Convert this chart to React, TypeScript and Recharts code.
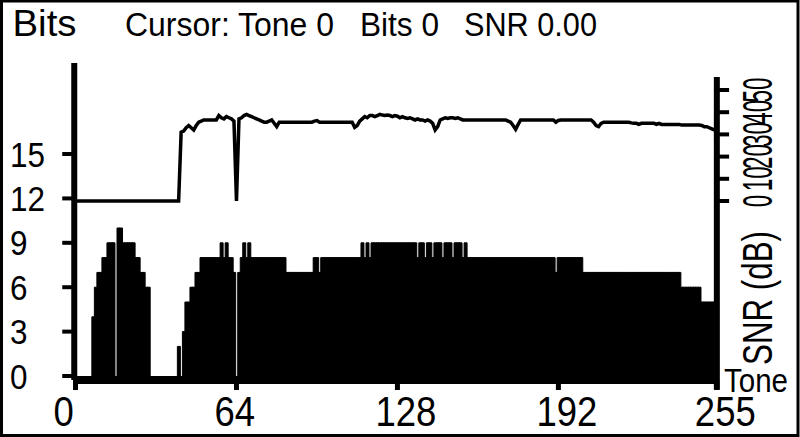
import { ComposedChart, Bar, Line, XAxis, YAxis, ReferenceLine } from 'recharts'

// tone index 0..255 (categories)
const TONES = Array.from({ length: 256 }, (_, i) => i)

// bits loaded per tone
const BITS = [
  0, 0, 0, 0, 0, 0, 0, 4, 6, 7, 7, 8, 8, 9, 9, 9,
  0, 10, 10, 9, 9, 9, 9, 9, 8, 8, 7, 7, 6, 6, 0, 0,
  0, 0, 0, 0, 0, 0, 0, 0, 0, 2, 0, 3, 5, 5, 6, 6,
  7, 7, 8, 8, 8, 8, 8, 8, 8, 8, 9, 8, 9, 8, 8, 7,
  0, 7, 8, 9, 8, 9, 8, 8, 8, 8, 8, 8, 8, 8, 8, 8,
  8, 8, 8, 8, 7, 7, 7, 7, 7, 7, 7, 7, 7, 7, 7, 8,
  8, 7, 8, 8, 8, 8, 8, 8, 8, 8, 8, 8, 8, 8, 8, 8,
  8, 8, 9, 8, 9, 8, 9, 9, 9, 9, 9, 9, 9, 9, 9, 9,
  9, 9, 9, 9, 9, 9, 9, 9, 8, 9, 9, 8, 9, 9, 8, 9,
  9, 9, 8, 9, 9, 9, 8, 9, 9, 9, 8, 9, 8, 8, 8, 8,
  8, 8, 8, 8, 8, 8, 8, 8, 8, 8, 8, 8, 8, 8, 8, 8,
  8, 8, 8, 8, 8, 8, 8, 8, 8, 8, 8, 8, 8, 8, 8, 7,
  8, 8, 8, 8, 8, 8, 8, 8, 8, 8, 7, 7, 7, 7, 7, 7,
  7, 7, 7, 7, 7, 7, 7, 7, 7, 7, 7, 7, 7, 7, 7, 7,
  7, 7, 7, 7, 7, 7, 7, 7, 7, 7, 7, 7, 7, 7, 7, 7,
  7, 6, 6, 6, 6, 6, 6, 6, 6, 5, 5, 5, 5, 5, 5, 5,
]

// SNR per tone in dB
const SNR = [
  0, 0, 0, 0, 0, 0, 0, 0, 0, 0, 0, 0, 0, 0, 0, 0,
  0, 0, 0, 0, 0, 0, 0, 0, 0, 0, 0, 0, 0, 0, 0, 0,
  0, 0, 0, 0, 0, 0, 0, 0, 0, 0, 31, 31.5, 33, 34, 33, 32,
  34, 35.5, 36, 36.5, 36.5, 36.5, 36.5, 36.5, 36.5, 38.5, 37.5, 37, 38, 37.5, 37, 36,
  0, 37, 37.5, 38.5, 39, 38.5, 38, 37.5, 37, 36.5, 36, 35.5, 35.5, 36, 36.5, 35,
  33.5, 35.5, 35.5, 35.5, 35.5, 35.5, 35.5, 35.5, 35.5, 35.5, 35.5, 35.5, 35.5, 35.5, 35.5, 36,
  36.2, 35.5, 35.5, 35.5, 35.5, 35.5, 35.5, 35.5, 35.5, 35.5, 35.5, 35.5, 35.5, 35.5, 35.5, 33.2,
  34, 36, 37, 38, 37.5, 38.5, 38.5, 38, 38.5, 39, 38.7, 38.5, 38.7, 38.5, 38, 38.5,
  38.2, 37.5, 38, 37.5, 37.2, 37.5, 37, 36.5, 37, 36.5, 36.5, 36, 36.5, 36, 35, 32,
  33.5, 36.5, 37, 37.5, 37.2, 37.5, 37.5, 37.2, 37.5, 37, 36.5, 36.5, 36.5, 36.5, 36.5, 36.5,
  36.5, 36.5, 36.5, 36.5, 36.5, 36.5, 36.5, 36.5, 36.5, 36.5, 36.5, 36.5, 36, 35.5, 34, 32.3,
  34.5, 36.5, 36.5, 36.5, 36.5, 36.5, 36.5, 36.5, 36.5, 36.5, 36.5, 36.5, 36.5, 36.5, 36.5, 35.5,
  36.3, 36.5, 36.5, 36.5, 36.5, 36.5, 36.5, 36.5, 36.5, 36.5, 36.5, 36.5, 36.5, 36.5, 35.5, 34,
  33.5, 35, 35.5, 35.5, 35.5, 35.5, 35.5, 35.5, 35.5, 35.5, 35.5, 35.5, 35.5, 35.2, 35, 35,
  34.5, 35, 35, 35, 35, 35, 35, 34.5, 35, 34.5, 34.5, 34.5, 34.5, 34.5, 34.5, 34.5,
  34.5, 34.2, 34.2, 34.2, 34.2, 34.2, 34.2, 34.2, 34.2, 34, 33.5, 33.5, 33, 32.5, 32, 31.5,
]

const TONE_TICKS = [0, 64, 128, 192, 255]
const BIT_TICKS = [0, 3, 6, 9, 12, 15]
const SNR_TICKS = [0, 10, 20, 30, 40, 50]

const data = TONES.map((t, i) => ({ tone: t, bits: BITS[i], snr: SNR[i] }))

const FONT = "'Liberation Sans', Arial, sans-serif"

const BitTick = ({ y, payload }: any) => {
  const s = String(payload.value)
  return (
    <text x={10} y={y + 12.5} fontSize={35} fontFamily={FONT} fill="#000"
      textLength={s.length * 17.5} lengthAdjust="spacingAndGlyphs">{s}</text>
  )
}

const ToneTick = ({ x, payload }: any) => {
  const s = String(payload.value)
  return (
    <text x={x - 22} y={426} fontSize={43} fontFamily={FONT} fill="#000"
      textLength={s.length * 20.3} lengthAdjust="spacingAndGlyphs">{s}</text>
  )
}

const SnrTick = ({ y, payload }: any) => {
  const s = String(payload.value)
  return (
    <text x={772} y={y} fontSize={42} fontFamily={FONT} fill="#000" textAnchor="middle"
      transform={`rotate(-90, 772, ${y})`}
      textLength={s.length * 12.5} lengthAdjust="spacingAndGlyphs">{s}</text>
  )
}

export default function App() {
  return (
    <div style={{ position: 'relative', width: 800, height: 437, background: '#fff' }}>
      <style>{'body{margin:0}'}</style>
      <ComposedChart
        width={800}
        height={437}
        data={data}
        margin={{ top: 63, right: 21.9, bottom: 17, left: 14.25 }}
        barCategoryGap={0}
        barGap={0}
      >
        <XAxis
          dataKey="tone"
          ticks={TONE_TICKS}
          interval={0}
          height={40}
          tickSize={10}
          axisLine={{ stroke: '#000', strokeWidth: 8 }}
          tickLine={{ stroke: '#000', strokeWidth: 5 }}
          tick={<ToneTick />}
        />
        <YAxis
          yAxisId="bits"
          type="number"
          domain={[-0.27, 21.15]}
          allowDataOverflow
          ticks={BIT_TICKS}
          interval={0}
          width={60}
          tickSize={12}
          axisLine={{ stroke: '#000', strokeWidth: 6 }}
          tickLine={{ stroke: '#000', strokeWidth: 4 }}
          tick={<BitTick />}
        />
        <YAxis
          yAxisId="snr"
          orientation="right"
          type="number"
          domain={[-80.63, 62.16]}
          allowDataOverflow
          ticks={SNR_TICKS}
          interval={0}
          width={60}
          tickSize={11}
          axisLine={false}
          tickLine={{ stroke: '#000', strokeWidth: 4 }}
          tick={<SnrTick />}
        />
        <Bar yAxisId="bits" dataKey="bits" fill="#000" stroke="#000" strokeWidth={1} isAnimationActive={false} />
        <Line
          yAxisId="snr"
          type="linear"
          dataKey="snr"
          stroke="#000"
          strokeWidth={3.5}
          dot={false}
          isAnimationActive={false}
        />
        <ReferenceLine
          yAxisId="snr"
          segment={[{ x: 255, y: -85 }, { x: 255, y: 55.9 }]}
          stroke="#000"
          strokeWidth={6}
          ifOverflow="visible"
        />
      </ComposedChart>
      <svg width={800} height={437} style={{ position: 'absolute', left: 0, top: 0, pointerEvents: 'none' }}>
        <rect x={1.5} y={1} width={796.5} height={434.5} fill="none" stroke="#000" strokeWidth={3} />
        <g fontFamily={FONT} fill="#000">
          <text x={12.5} y={36} fontSize={36} textLength={64} lengthAdjust="spacingAndGlyphs">Bits</text>
          <text x={125} y={36} fontSize={33} textLength={209} lengthAdjust="spacingAndGlyphs">Cursor: Tone 0</text>
          <text x={360} y={36} fontSize={33} textLength={79} lengthAdjust="spacingAndGlyphs">Bits 0</text>
          <text x={464} y={36} fontSize={33} textLength={133} lengthAdjust="spacingAndGlyphs">SNR 0.00</text>
          <text x={724} y={392} fontSize={34} textLength={64} lengthAdjust="spacingAndGlyphs">Tone</text>
          <text x={772} y={298} fontSize={42} textAnchor="middle" transform="rotate(-90, 772, 298)"
            textLength={134} lengthAdjust="spacingAndGlyphs">SNR (dB)</text>
        </g>
      </svg>
    </div>
  )
}
